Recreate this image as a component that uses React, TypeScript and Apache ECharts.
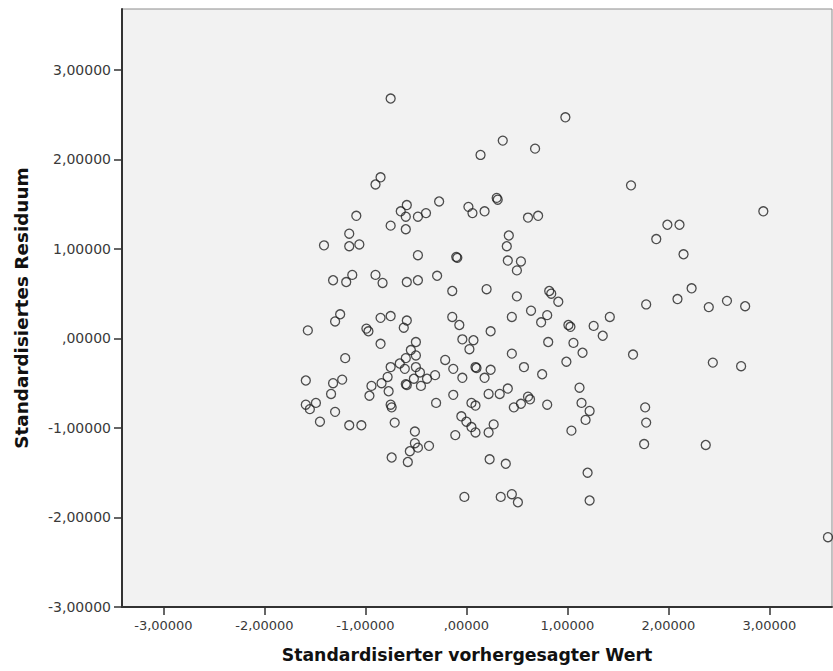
import React, { useEffect, useRef } from "react";
import * as echarts from "echarts";

const predicted: number[] = [
  -0.75, -0.85, -0.9, -0.27, -0.59, -0.65, -0.6, -0.48, -0.4, -1.09,
  -0.75, -0.6, -1.16, -1.41, -1.16, -1.06, -0.48, -0.1, -0.09, -1.32,
  -1.19, -1.13, -0.9, -0.83, -0.59, -0.48, -0.29, -0.14, -1.25, -1.3,
  -0.85, -0.75, -0.59, -0.14, -0.07, -1.57, -0.99, -0.97, -0.62,
  0.98, 0.36, 0.14, 0.68, 1.63, 0.3, 0.31, 0.02, 0.06, 0.18,
  0.61, 0.71, 0.42, 0.4, 0.41, 0.54, 0.5, 0.2, 0.5, 0.82,
  0.84, 0.91, 0.64, 0.45, 0.74, 0.8, 1.01, 1.03, 1.26, 1.42,
  1.78, 0.24,
  2.94, 1.99, 2.11, 1.88, 2.15, 2.23, 2.09, 2.4, 2.58, 2.76,
  -0.85, -0.5, -0.55, -0.5, -0.6, -1.2, -0.75, -0.66, -0.61, -0.5,
  -0.46, -0.78, -0.84, -0.94, -0.96, -0.77, -0.6, -0.59, -0.52, -0.45,
  -0.39, -0.31, -0.21, -0.13, -0.04, -0.04, 0.03, 0.07, -1.59, -1.32,
  -1.23, -1.34, -1.59, -1.55, -1.49, -1.45, -1.3, -1.16, -1.04, -0.75,
  -0.74, -0.71, -0.3, -0.13, -0.05, 0.0, 0.05, 0.05, -0.11, -0.51,
  -0.51, -0.48, -0.56, -0.37, -0.74, -0.58, -0.02,
  0.45, 0.81, 1.06, 1.15, 0.99, 1.35, 1.65, 0.09, 0.1, 0.24,
  0.18, 0.57, 0.75, 1.12, 0.41, 0.33, 0.22, 0.61, 0.63, 0.54,
  0.47, 0.8, 1.14, 1.22, 1.18, 1.04, 1.77, 1.78, 1.76, 0.09,
  0.09, 0.27, 0.22, 0.23, 0.39, 1.2, 0.34, 0.45, 0.51, 1.22,
  2.44, 2.72, 2.37, 3.58,
];

const residuals: number[] = [
  2.68, 1.8, 1.72, 1.53, 1.49, 1.42, 1.36, 1.36, 1.4, 1.37,
  1.26, 1.22, 1.17, 1.04, 1.03, 1.05, 0.93, 0.91, 0.9, 0.65,
  0.63, 0.71, 0.71, 0.62, 0.63, 0.65, 0.7, 0.53, 0.27, 0.19,
  0.23, 0.25, 0.2, 0.24, 0.15, 0.09, 0.11, 0.08, 0.12,
  2.47, 2.21, 2.05, 2.12, 1.71, 1.57, 1.55, 1.47, 1.4, 1.42,
  1.35, 1.37, 1.15, 1.03, 0.87, 0.86, 0.76, 0.55, 0.47, 0.53,
  0.5, 0.41, 0.31, 0.24, 0.18, 0.26, 0.15, 0.13, 0.14, 0.24,
  0.38, 0.08,
  1.42, 1.27, 1.27, 1.11, 0.94, 0.56, 0.44, 0.35, 0.42, 0.36,
  -0.06, -0.04, -0.13, -0.19, -0.22, -0.22, -0.32, -0.28, -0.34, -0.32,
  -0.38, -0.43, -0.5, -0.53, -0.64, -0.59, -0.51, -0.52, -0.45, -0.53,
  -0.45, -0.41, -0.24, -0.34, -0.44, -0.01, -0.12, -0.02, -0.47, -0.5,
  -0.46, -0.62, -0.74, -0.79, -0.72, -0.93, -0.82, -0.97, -0.97, -0.74,
  -0.77, -0.94, -0.72, -0.63, -0.87, -0.93, -0.72, -0.99, -1.08, -1.04,
  -1.17, -1.22, -1.26, -1.2, -1.33, -1.38, -1.77,
  -0.17, -0.04, -0.05, -0.16, -0.26, 0.03, -0.18, -0.32, -0.33, -0.35,
  -0.44, -0.32, -0.4, -0.55, -0.56, -0.62, -0.62, -0.65, -0.68, -0.73,
  -0.77, -0.74, -0.72, -0.81, -0.91, -1.03, -0.77, -0.94, -1.18, -0.75,
  -1.05, -0.96, -1.05, -1.35, -1.4, -1.5, -1.77, -1.74, -1.83, -1.81,
  -0.27, -0.31, -1.19, -2.22,
];

const tickValues: number[] = [-3, -2, -1, 0, 1, 2, 3];
const xTitle = "Standardisierter vorhergesagter Wert";
const yTitle = "Standardisiertes Residuum";

const fmt = (v: number): string => {
  if (Math.abs(v) < 1e-9) return ",00000";
  return v.toFixed(5).replace(".", ",");
};

export default function App() {
  const ref = useRef<HTMLDivElement>(null);
  useEffect(() => {
    if (!ref.current) return;
    const chart = echarts.init(ref.current, undefined, { renderer: "svg" });
    const data = predicted.map((x, i) => [x, residuals[i]]);
    chart.setOption({
      animation: false,
      backgroundColor: "#ffffff",
      grid: {
        left: 122,
        top: 9,
        width: 710,
        height: 598,
        show: true,
        backgroundColor: "#f2f2f2",
        borderColor: "#8c8c8c",
        borderWidth: 1,
      },
      xAxis: {
        type: "value",
        min: -3.41,
        max: 3.62,
        splitLine: { show: false },
        axisLine: { show: true, onZero: false, lineStyle: { color: "#333333", width: 2 } },
        axisTick: { show: true, customValues: tickValues, length: 8, lineStyle: { color: "#333333", width: 1.5 } },
        axisLabel: {
          customValues: tickValues,
          formatter: fmt,
          margin: 12,
          fontSize: 13,
          fontFamily: "DejaVu Sans",
          color: "#3a3a3a",
        },
      },
      yAxis: {
        type: "value",
        min: -3,
        max: 3.68,
        splitLine: { show: false },
        axisLine: { show: true, onZero: false, lineStyle: { color: "#333333", width: 2 } },
        axisTick: { show: true, customValues: tickValues, length: 8, lineStyle: { color: "#333333", width: 1.5 } },
        axisLabel: {
          customValues: tickValues,
          formatter: fmt,
          margin: 11,
          fontSize: 14,
          fontFamily: "DejaVu Sans",
          color: "#3a3a3a",
        },
      },
      graphic: [
        {
          type: "text",
          x: 467,
          y: 655,
          style: {
            text: xTitle,
            fontSize: 17.3,
            fontWeight: "bold",
            fontFamily: "DejaVu Sans",
            fill: "#111111",
            align: "center",
            verticalAlign: "middle",
          },
        },
        {
          type: "text",
          x: 21,
          y: 308,
          rotation: Math.PI / 2,
          style: {
            text: yTitle,
            fontSize: 18.4,
            fontWeight: "bold",
            fontFamily: "DejaVu Sans",
            fill: "#111111",
            align: "center",
            verticalAlign: "middle",
          },
        },
      ],
      series: [
        {
          type: "scatter",
          data,
          symbol: "circle",
          symbolSize: 9,
          clip: false,
          itemStyle: { color: "rgba(0,0,0,0)", borderColor: "#222222", borderWidth: 1.3 },
        },
      ],
    });
    return () => chart.dispose();
  }, []);
  return (
    <div
      ref={ref}
      style={{ position: "fixed", left: 0, top: 0, width: 833, height: 671 }}
    />
  );
}
